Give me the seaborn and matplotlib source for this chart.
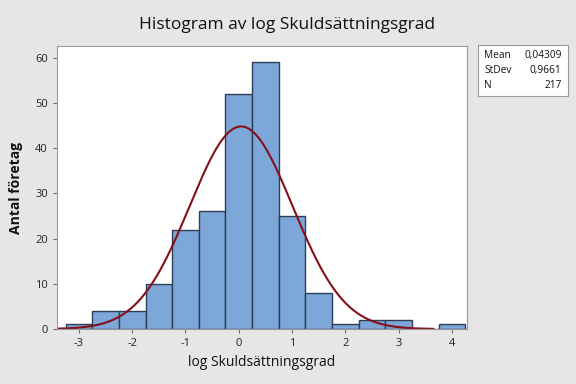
import numpy as np
import pandas as pd
import matplotlib
matplotlib.use("Agg")
import matplotlib.pyplot as plt
import seaborn as sns

# Bin centres and counts
bin_centers = [-3.0, -2.5, -2.0, -1.5, -1.0, -0.5, 0.0, 0.5, 1.0, 1.5, 2.0, 2.5, 3.0, 3.5, 4.0]
counts = [1, 4, 4, 10, 22, 26, 52, 59, 25, 8, 1, 2, 2, 0, 1]
bin_width = 0.5

# Summary statistics shown in the box
mean_val = 0.04309
std_val = 0.9661
n_obs = 217
stat_labels = ["Mean", "StDev", "N"]
stat_values = ["0,04309", "0,9661", "217"]

x_ticks = [-3, -2, -1, 0, 1, 2, 3, 4]
y_ticks = [0, 10, 20, 30, 40, 50, 60]

sns.set_theme(style="white")
plt.rcParams['font.family'] = ['Open Sans', 'DejaVu Sans']
plt.rcParams['axes.unicode_minus'] = False

bg = "#e6e6e6"
fig = plt.figure(figsize=(5.76, 3.84), dpi=100, facecolor=bg)
ax = fig.add_axes([57 / 576, 1 - 329 / 384, 410 / 576, 283 / 384])
ax.set_facecolor("white")

df = pd.DataFrame({"center": bin_centers, "count": counts})
lo = bin_centers[0] - bin_width / 2
hi = bin_centers[-1] + bin_width / 2
sns.histplot(data=df, x="center", weights="count", binwidth=bin_width, binrange=(lo, hi), ax=ax,
             color="#7da7d9", edgecolor="#2e3f55", linewidth=1.0, alpha=1.0)

# Fitted normal curve scaled to counts
xs = np.linspace(-3.41, 3.65, 300)
ys = n_obs * bin_width * np.exp(-0.5 * ((xs - mean_val) / std_val) ** 2) / (std_val * np.sqrt(2 * np.pi))
sns.lineplot(x=xs, y=ys, ax=ax, color="#850f1c", linewidth=1.5)

ax.set_xlim(-3.41, 4.28)
ax.set_ylim(0, 62.6)
ax.set_xticks(x_ticks)
ax.set_yticks(y_ticks)
ax.tick_params(axis="both", which="both", direction="out", length=3, width=0.8,
               color="#707070", labelsize=8, labelcolor="#222222", bottom=True, left=True)
for s in ax.spines.values():
    s.set_color("#9a9a9a")
    s.set_linewidth(0.8)

ax.set_xlabel("log Skuldsättningsgrad", fontsize=10, color="#111111", labelpad=4)
ax.set_ylabel("Antal företag", fontsize=10, fontweight="bold", color="#111111", labelpad=9)
fig.text(287 / 576, 1 - 25 / 384, "Histogram av log Skuldsättningsgrad",
         ha="center", va="center", fontsize=12.5, color="#111111")

# Statistics box
bax = fig.add_axes([478 / 576, 1 - 96 / 384, 90 / 576, 51 / 384])
bax.set_facecolor("white")
bax.set_xticks([])
bax.set_yticks([])
for s in bax.spines.values():
    s.set_color("#9a9a9a")
    s.set_linewidth(0.8)
for i, (lab, val) in enumerate(zip(stat_labels, stat_values)):
    yy = 0.8 - i * 0.3
    bax.text(0.07, yy, lab, ha="left", va="center", fontsize=7.3, color="#111111", transform=bax.transAxes)
    bax.text(0.93, yy, val, ha="right", va="center", fontsize=7.3, color="#111111", transform=bax.transAxes)

fig.savefig("out.png", dpi=100, facecolor=bg)
